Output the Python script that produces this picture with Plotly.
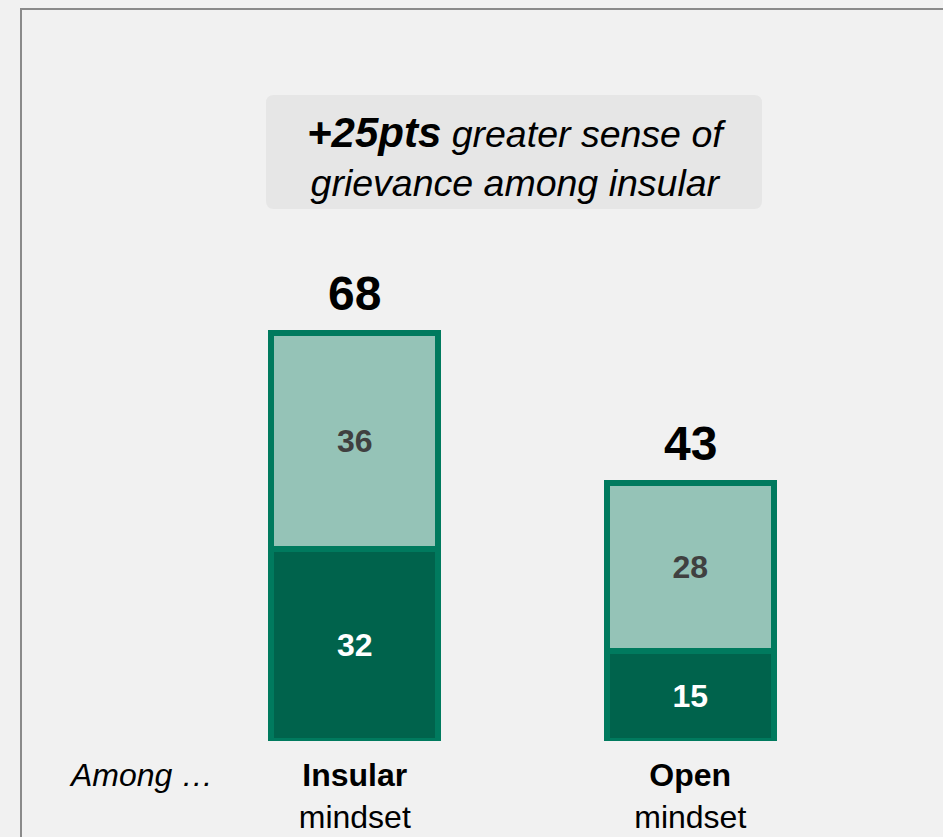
import plotly.graph_objects as go

# ---- data ----
categories = ["Insular", "Open"]
cat_labels = ["<b>Insular</b><br>mindset", "<b>Open</b><br>mindset"]
strong_vals = [32, 15]   # dark segment
some_vals = [36, 28]     # light segment
totals = [a + b for a, b in zip(strong_vals, some_vals)]
headline_bold = "+25pts"
headline_rest = " greater sense of"
headline_line2 = "grievance among insular"
among_label = "Among …"

# ---- styling ----
W, H = 943, 837
ML, MR, MT, MB = 187, 85, 141, 96
PW, PH = W - ML - MR, H - MT - MB
FONT = "Liberation Sans, Arial, sans-serif"
OUTLINE = "#007a5e"
LIGHT = "#95c3b7"
DARK = "#00634c"
BG = "#f1f1f1"

def px_x(px):
    return (px - ML) / PW

def px_y(py):
    return (H - MB - py) / PH

xs = list(range(len(categories)))

fig = go.Figure()
fig.add_trace(go.Bar(
    x=xs, y=strong_vals, width=0.498,
    marker=dict(color=DARK, line=dict(color=OUTLINE, width=6)),
    text=[str(v) for v in strong_vals], textposition="inside",
    insidetextanchor="middle", textangle=0, constraintext="none",
    textfont=dict(family=FONT, size=32, color="white", weight="bold"),
    hoverinfo="skip",
))
fig.add_trace(go.Bar(
    x=xs, y=some_vals, width=0.498,
    marker=dict(color=LIGHT, line=dict(color=OUTLINE, width=6)),
    text=[str(v) for v in some_vals], textposition="inside",
    insidetextanchor="middle", textangle=0, constraintext="none",
    textfont=dict(family=FONT, size=32, color="#404040", weight="bold"),
    hoverinfo="skip",
))

annotations = []
for x, t in zip(xs, totals):
    annotations.append(dict(
        x=x, y=t, xref="x", yref="y", text=f"<b>{t}</b>", showarrow=False,
        yanchor="middle", yshift=40,
        font=dict(family=FONT, size=48, color="black"),
    ))

# headline box text
annotations.append(dict(
    x=px_x(516), y=px_y(157), xref="paper", yref="paper",
    text=(f"<span style='font-size:42px'><b><i>{headline_bold}</i></b></span>"
          f"<i>{headline_rest}</i><br><i>{headline_line2}</i>"),
    showarrow=False, xanchor="center", yanchor="middle", align="center",
    font=dict(family=FONT, size=37.5, color="black"),
))

annotations.append(dict(
    x=px_x(67), y=px_y(775), xref="paper", yref="paper",
    text=f"<i>{among_label}</i>", showarrow=False,
    xanchor="left", yanchor="middle",
    font=dict(family=FONT, size=32, color="black"),
))

# rounded rectangle for headline box
bx0, bx1, by0, by1, r = 266, 762, 95, 209, 8
def P(px, py):
    return f"{px_x(px):.5f},{px_y(py):.5f}"
path = (f"M {P(bx0 + r, by0)} L {P(bx1 - r, by0)} Q {P(bx1, by0)} {P(bx1, by0 + r)} "
        f"L {P(bx1, by1 - r)} Q {P(bx1, by1)} {P(bx1 - r, by1)} "
        f"L {P(bx0 + r, by1)} Q {P(bx0, by1)} {P(bx0, by1 - r)} "
        f"L {P(bx0, by0 + r)} Q {P(bx0, by0)} {P(bx0 + r, by0)} Z")

shapes = [
    dict(type="path", xref="paper", yref="paper", path=path,
         fillcolor="#e6e6e6", line=dict(width=0), layer="below"),
    dict(type="rect", xref="paper", yref="paper",
         x0=px_x(21), x1=px_x(960), y0=px_y(9), y1=px_y(860),
         line=dict(color="#8a8a8a", width=2), fillcolor="rgba(0,0,0,0)", layer="below"),
]

fig.update_layout(
    width=W, height=H, autosize=False,
    margin=dict(l=ML, r=MR, t=MT, b=MB, pad=0, autoexpand=False),
    barmode="stack", bargap=0,
    paper_bgcolor=BG, plot_bgcolor=BG,
    showlegend=False,
    font=dict(family=FONT, color="black"),
    annotations=annotations, shapes=shapes,
    xaxis=dict(range=[-0.5, 1.5], tickvals=xs, ticktext=cat_labels,
               showgrid=False, zeroline=False, showline=False, ticks="",
               tickfont=dict(family=FONT, size=32, color="black"),
               ticklabelstandoff=12, automargin=False, fixedrange=True),
    yaxis=dict(range=[0, 100], visible=False, showgrid=False, zeroline=False,
               automargin=False, fixedrange=True),
)

fig.write_html("out.html",
               config={"responsive": False, "displayModeBar": False, "staticPlot": True},
               post_script="document.body.style.margin='0';document.body.style.overflow='hidden';")
